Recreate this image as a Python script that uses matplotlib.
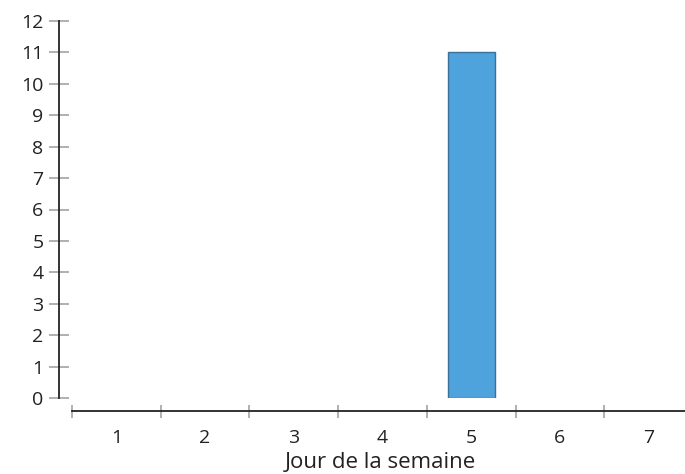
import numpy as np
import matplotlib.pyplot as plt

# data
days = [1, 2, 3, 4, 5, 6, 7]
counts = [0, 0, 0, 0, 11, 0, 0]
yticks = list(range(0, 13))
xlabel = 'Jour de la semaine'

plt.rcParams['font.family'] = ['Open Sans', 'DejaVu Sans']
px = 0.72  # points per pixel at dpi 100

fig = plt.figure(figsize=(6.85, 4.74), dpi=100)
ax = fig.add_axes([72/685, 76/474, 613/685, 377/474])

# only outline bars that have a height
lw = [1.0 if c > 0 else 0 for c in counts]
ax.bar(days, counts, width=0.53, color='#4fa3dc', edgecolor='#3b6f95', linewidth=lw, zorder=3)

ax.set_xlim(0.5, 0.5 + 613/88.7)
ax.set_ylim(0, 12)

for s in ['top', 'right']:
    ax.spines[s].set_visible(False)
for s in ['left', 'bottom']:
    ax.spines[s].set_position(('outward', 13*px))
    ax.spines[s].set_color('#222222')
    ax.spines[s].set_linewidth(1.3)

ax.set_yticks(yticks)
ax.set_yticklabels([str(v) for v in yticks])
ax.tick_params(axis='y', direction='inout', length=20*px, width=1.3, color='#aaaaaa',
               labelsize=14, labelcolor='#222222', pad=4)

ax.set_xticks(days)
ax.set_xticklabels([str(d) for d in days])
ax.set_xticks([d - 0.5 for d in days], minor=True)
ax.tick_params(axis='x', which='major', length=0, labelsize=14, labelcolor='#222222', pad=13)
ax.tick_params(axis='x', which='minor', direction='inout', length=13*px, width=1.3, color='#aaaaaa')

ax.set_xlabel(xlabel, fontsize=16, color='#222222')
ax.xaxis.set_label_coords(308/613, -(462-398)/377)
ax.xaxis.label.set_va('center')

fig.savefig('out.png', dpi=100)
